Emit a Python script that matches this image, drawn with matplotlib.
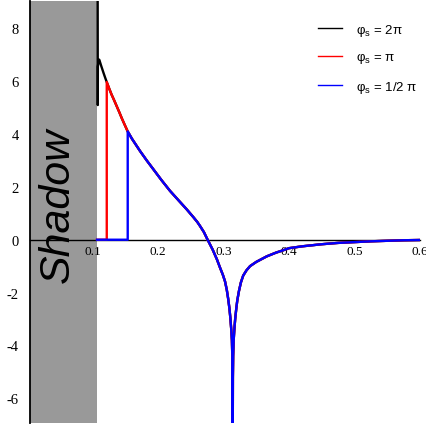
import numpy as np
import matplotlib
matplotlib.use("Agg")
import matplotlib.pyplot as plt

# ---- data ----
curve_x = [0.1081, 0.1092, 0.1102, 0.1115, 0.1130, 0.1150, 0.1170, 0.1195,
           0.1217, 0.1255, 0.1290, 0.1330, 0.1370, 0.1410, 0.1450, 0.1495,
           0.1537, 0.1600, 0.1725, 0.1828, 0.1928, 0.2055, 0.2183, 0.2310,
           0.2438, 0.2541, 0.2600, 0.2641, 0.2700, 0.2753, 0.2835, 0.2900, 0.2947,
           0.2990, 0.3023, 0.3050, 0.3070, 0.3090, 0.3105, 0.3118, 0.3128,
           0.3134, 0.3137, 0.3139, 0.3141, 0.3143, 0.3147, 0.3155, 0.3165,
           0.3178, 0.3195, 0.3210, 0.3235, 0.3265, 0.3300, 0.3350, 0.3405,
           0.3500, 0.3660, 0.3800, 0.3910, 0.4000, 0.4200, 0.4500, 0.4750,
           0.5000, 0.5250, 0.5500, 0.5750, 0.6000]
curve_y = [6.55, 6.78, 6.82, 6.72, 6.60, 6.45, 6.30, 6.12,
           5.97, 5.72, 5.50, 5.28, 5.05, 4.82, 4.58, 4.33,
           4.10, 3.83, 3.36, 3.00, 2.67, 2.25, 1.85, 1.50,
           1.15, 0.85, 0.67, 0.52, 0.29, 0.02, -0.38, -0.75, -1.06,
           -1.33, -1.58, -1.90, -2.22, -2.60, -2.98, -3.40, -3.80,
           -4.40, -5.20, -7.50, -7.50, -5.20, -4.40, -3.80, -3.40,
           -3.00, -2.60, -2.30, -1.95, -1.62, -1.36, -1.16, -1.00,
           -0.84, -0.63, -0.49, -0.40, -0.32, -0.25, -0.17, -0.12,
           -0.09, -0.06, -0.04, -0.02, -0.01]

series_labels = ["φ$_\\mathrm{s}$ = 2π", "φ$_\\mathrm{s}$ = π", "φ$_\\mathrm{s}$ = 1/2 π"]
series_colors = ["#000000", "#ff0000", "#0000ff"]
series_start = [0.1081, 0.1217, 0.1537]
black_spike_x = [0.1078, 0.1080]
black_spike_y = [9.5, 5.1]

shadow_edge = 0.1069
x_ticks = [0.1, 0.2, 0.3, 0.4, 0.5, 0.6]
y_ticks = [-6, -4, -2, 0, 2, 4, 6, 8]
xlim = (0.0045, 0.6)
ylim = (-6.94, 9.04)

plt.rcParams['mathtext.fontset'] = 'custom'
plt.rcParams['mathtext.rm'] = 'Liberation Sans'

fig = plt.figure(figsize=(4.27, 4.27), dpi=100)
ax = fig.add_axes([30/427, 3/427, 390/427, 422/427])
ax.set_xlim(*xlim)
ax.set_ylim(*ylim)

ax.axvspan(xlim[0], shadow_edge, color="#999999", zorder=0, lw=0)

cx = np.array(curve_x)
cy = np.array(curve_y)
for i, (lab, col, xs) in enumerate(zip(series_labels, series_colors, series_start)):
    m = cx >= xs - 1e-9
    if i == 0:
        px = np.concatenate([black_spike_x, cx[m]])
        py = np.concatenate([black_spike_y, cy[m]])
    else:
        px = np.concatenate([[shadow_edge, xs], cx[m]])
        py = np.concatenate([[0.0, 0.0], cy[m]])
    ax.plot(px, py, color=col, lw=1.7, label=lab, zorder=3 + i)

for s in ['top', 'right']:
    ax.spines[s].set_visible(False)
ax.spines['bottom'].set_position(('data', 0))
ax.spines['bottom'].set_linewidth(1.0)
ax.spines['bottom'].set_zorder(2)
ax.spines['left'].set_linewidth(1.3)

ax.set_xticks(x_ticks)
ax.set_yticks(y_ticks)
ax.set_xticklabels([f"{v:g}" for v in x_ticks], fontfamily="Liberation Serif", fontsize=9.5)
ax.set_yticklabels([f"{v:g}" for v in y_ticks], fontfamily="Liberation Serif", fontsize=10.5)
ax.tick_params(axis='x', length=0, pad=4)
ax.tick_params(axis='y', length=0, pad=8)

ax.text(0.0470, 1.34, "Shadow", rotation=90, ha='center', va='center',
        fontfamily="Liberation Sans", fontstyle='italic', fontsize=31, color='black', zorder=1)

leg = ax.legend(loc='upper left', bbox_to_anchor=(318/427, 1 - 23/427), bbox_transform=fig.transFigure,
                frameon=False, borderpad=0, borderaxespad=0, handlelength=1.8, handletextpad=1.05,
                labelspacing=1.0, prop={'family': 'Liberation Sans', 'size': 9.5})
for h in leg.get_lines():
    h.set_linewidth(1.0)

fig.savefig("out.png", dpi=100)
